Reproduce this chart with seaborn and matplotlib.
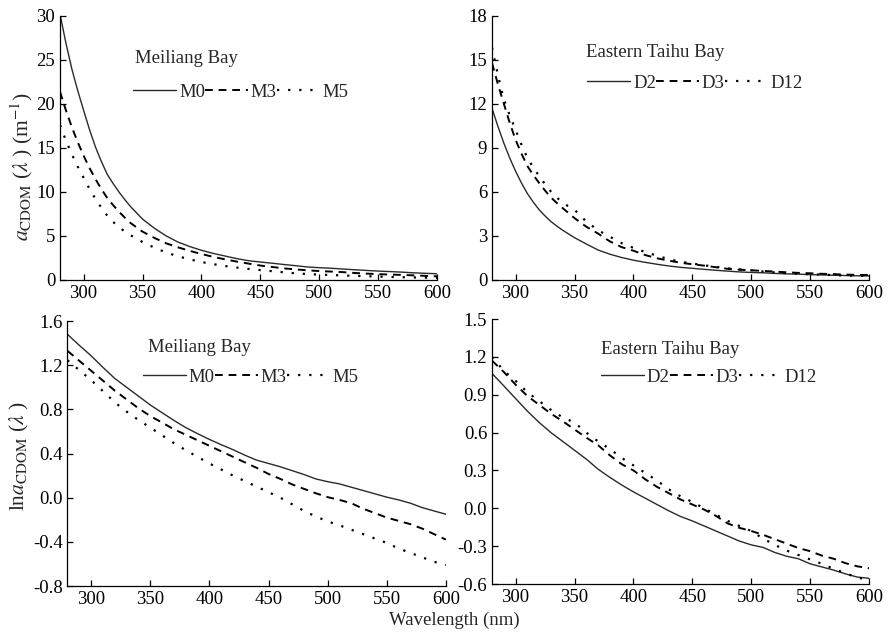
import numpy as np
import pandas as pd
import matplotlib
matplotlib.use("Agg")
import matplotlib.pyplot as plt
import seaborn as sns

# Wavelength grid (nm): finer steps where the spectra bend most
wavelength = [280, 285, 290, 295, 300, 305, 310, 315, 320, 325, 330, 335, 340,
              350, 360, 370, 380, 390, 400, 410, 420, 430, 440, 450, 460, 470,
              480, 490, 500, 510, 520, 530, 540, 550, 560, 570, 580, 590, 600]

# log10 of CDOM absorption, Meiliang Bay stations
log_m0 = [1.48, 1.43, 1.38, 1.333, 1.285, 1.233, 1.18, 1.13, 1.08, 1.04, 1.00, 0.96, 0.92,
          0.84, 0.77, 0.70, 0.635, 0.58, 0.528, 0.48, 0.435, 0.385, 0.34, 0.31, 0.28, 0.245,
          0.21, 0.17, 0.145, 0.125, 0.095, 0.065, 0.035, 0.005, -0.02, -0.05, -0.09, -0.12, -0.15]
log_m3 = [1.33, 1.285, 1.24, 1.195, 1.15, 1.105, 1.06, 1.015, 0.97, 0.93, 0.89, 0.85, 0.81,
          0.74, 0.68, 0.62, 0.57, 0.52, 0.47, 0.42, 0.37, 0.32, 0.27, 0.215, 0.17, 0.12,
          0.08, 0.04, 0.005, -0.02, -0.05, -0.10, -0.14, -0.18, -0.21, -0.24, -0.28, -0.33, -0.38]
log_m5 = [1.245, 1.20, 1.155, 1.11, 1.065, 1.015, 0.965, 0.915, 0.865, 0.82, 0.78, 0.74, 0.705,
          0.635, 0.565, 0.495, 0.43, 0.37, 0.31, 0.255, 0.20, 0.15, 0.10, 0.05, 0.0, -0.06,
          -0.12, -0.17, -0.215, -0.25, -0.29, -0.33, -0.37, -0.41, -0.46, -0.50, -0.54, -0.58, -0.61]

# log10 of CDOM absorption, Eastern Taihu Bay stations
log_d2 = [1.068, 1.02, 0.97, 0.92, 0.87, 0.82, 0.77, 0.725, 0.68, 0.64, 0.60, 0.565, 0.53,
          0.46, 0.39, 0.31, 0.245, 0.185, 0.13, 0.08, 0.03, -0.02, -0.065, -0.10, -0.14, -0.18,
          -0.22, -0.26, -0.29, -0.31, -0.35, -0.38, -0.40, -0.44, -0.465, -0.49, -0.52, -0.545, -0.555]
log_d3 = [1.17, 1.125, 1.08, 1.03, 0.98, 0.935, 0.89, 0.855, 0.82, 0.785, 0.75, 0.72, 0.69,
          0.625, 0.56, 0.50, 0.42, 0.35, 0.30, 0.23, 0.17, 0.12, 0.07, 0.03, -0.01, -0.06,
          -0.12, -0.155, -0.18, -0.21, -0.245, -0.28, -0.315, -0.34, -0.375, -0.40, -0.435, -0.46, -0.475]
log_d12 = [1.20, 1.145, 1.09, 1.05, 1.01, 0.965, 0.92, 0.885, 0.85, 0.815, 0.78, 0.75, 0.72,
           0.68, 0.60, 0.53, 0.47, 0.40, 0.34, 0.28, 0.22, 0.15, 0.095, 0.05, 0.0, -0.05,
           -0.10, -0.14, -0.18, -0.24, -0.29, -0.335, -0.37, -0.405, -0.44, -0.48, -0.515, -0.55, -0.565]

meiliang_names = ["M0", "M3", "M5"]
taihu_names = ["D2", "D3", "D12"]

sns.set_style("ticks")
plt.rcParams["font.family"] = ["Liberation Serif", "DejaVu Serif"]
plt.rcParams["mathtext.fontset"] = "stix"
plt.rcParams["axes.unicode_minus"] = False
plt.rcParams["xtick.direction"] = "in"
plt.rcParams["ytick.direction"] = "in"

FS = 13.5
styles = [dict(color="#2a2a2a", linestyle="-", linewidth=1.0),
          dict(color="black", linestyle=(0, (4, 3)), linewidth=1.4),
          dict(color="black", linestyle=(0, (1, 4)), linewidth=1.6)]

fig = plt.figure(figsize=(8.88, 6.33), dpi=100)
ax_tl = fig.add_axes([0.0676, 0.5577, 0.4246, 0.4171])
ax_tr = fig.add_axes([0.5541, 0.5577, 0.4246, 0.4171])
ax_bl = fig.add_axes([0.0760, 0.0742, 0.4262, 0.4186])
ax_br = fig.add_axes([0.5541, 0.0774, 0.4246, 0.4186])

wl = np.array(wavelength)


def draw(ax, series, names, log_scale):
    for vals, name, st in zip(series, names, styles):
        y = np.array(vals) if log_scale else 10 ** np.array(vals)
        df = pd.DataFrame({"wl": wl, "v": y})
        sns.lineplot(data=df, x="wl", y="v", ax=ax, label=name, **st)


draw(ax_tl, [log_m0, log_m3, log_m5], meiliang_names, False)
draw(ax_tr, [log_d2, log_d3, log_d12], taihu_names, False)
draw(ax_bl, [log_m0, log_m3, log_m5], meiliang_names, True)
draw(ax_br, [log_d2, log_d3, log_d12], taihu_names, True)

limits = {
    ax_tl: (0, 30, np.arange(0, 31, 5), "%d"),
    ax_tr: (0, 18, np.arange(0, 19, 3), "%d"),
    ax_bl: (-0.8, 1.6, np.arange(-0.8, 1.61, 0.4), "%.1f"),
    ax_br: (-0.6, 1.5, np.arange(-0.6, 1.51, 0.3), "%.1f"),
}
for ax, (lo, hi, ticks, fmt) in limits.items():
    ax.set_xlim(280, 600)
    ax.set_ylim(lo, hi)
    ax.set_xticks(range(300, 601, 50))
    ax.set_yticks(ticks)
    ax.set_yticklabels([fmt % (0.0 if abs(t) < 1e-9 else t) for t in ticks])
    ax.tick_params(labelsize=FS, length=4, width=0.9, pad=3.5, colors="black")
    ax.set_xlabel("")
    ax.set_ylabel("")
    sns.despine(ax=ax)
    for s in ("left", "bottom"):
        ax.spines[s].set_linewidth(0.9)
        ax.spines[s].set_color("black")

# Station group titles
ax_tl.text(343.7, 25.2, "Meiliang Bay", fontsize=FS, va="center", ha="left")
ax_tr.text(359.8, 15.5, "Eastern Taihu Bay", fontsize=FS, va="center", ha="left")
ax_bl.text(347.8, 1.362, "Meiliang Bay", fontsize=FS, va="center", ha="left")
ax_br.text(372.5, 1.255, "Eastern Taihu Bay", fontsize=FS, va="center", ha="left")

legend_pos = {ax_tl: (0.1936, 0.712), ax_tr: (0.252, 0.746),
              ax_bl: (0.1995, 0.7875), ax_br: (0.289, 0.78)}
for ax, (lx, ly) in legend_pos.items():
    ax.legend(ncol=3, loc="center left", bbox_to_anchor=(lx, ly), frameon=False,
              fontsize=FS, handlelength=2.3, handletextpad=0.15, columnspacing=0.0,
              borderpad=0, borderaxespad=0)

ax_tl.set_ylabel(r"$a_{\rm CDOM}$ ($\lambda$ ) (m$^{-1}$)", fontsize=15.5, labelpad=1)
ax_tl.yaxis.label.set_y(0.43)
ax_bl.set_ylabel(r"ln$a_{\rm CDOM}$ ($\lambda$ )", fontsize=15.5, labelpad=1)
ax_bl.yaxis.label.set_y(0.49)
fig.text(0.512, 0.02, "Wavelength (nm)", fontsize=FS, ha="center", va="center")

fig.savefig("out.png", dpi=100)
